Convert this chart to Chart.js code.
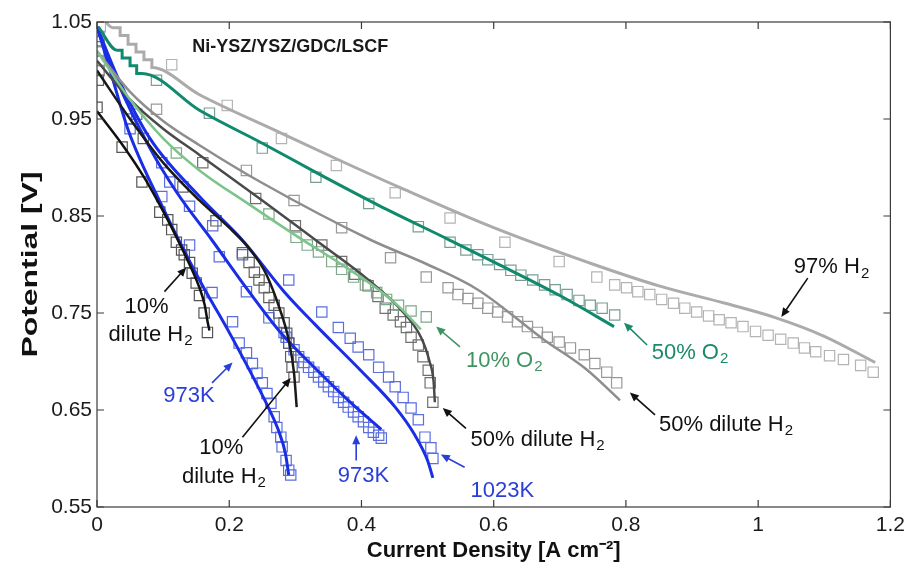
<!DOCTYPE html>
<html><head><meta charset="utf-8">
<script src="https://cdn.jsdelivr.net/npm/chart.js@4/dist/chart.umd.min.js"></script>
<style>html,body{margin:0;padding:0;background:#fff}#wrap{width:911px;height:571px}</style>
</head><body><div id="wrap"><canvas id="c" width="911" height="571"></canvas></div>
<script>
const X_TICKS = [0, 0.2, 0.4, 0.6, 0.8, 1.0, 1.2];
const X_TICK_LABELS = ['0', '0.2', '0.4', '0.6', '0.8', '1', '1.2'];
const Y_TICKS = [0.55, 0.65, 0.75, 0.85, 0.95, 1.05];
const Y_TICK_LABELS = ['0.55', '0.65', '0.75', '0.85', '0.95', '1.05'];
const X_TITLE = 'Current Density [A cm\u207B\u00B2]';
const Y_TITLE = 'Potential [V]';

// 97% H2 (reference)
const h2_97_fit = [[0.003,1.06],[0.024,1.044],[0.035,1.044],[0.035,1.036],[0.047,1.036],[0.047,1.027],[0.059,1.027],[0.059,1.019],[0.071,1.019],[0.071,1.011],[0.083,1.011],[0.083,1.003],[0.155,0.975],[0.28,0.935],[0.365,0.908],[0.456,0.880],[0.6,0.838],[0.756,0.799],[0.85,0.778],[0.95,0.760],[1.027,0.745],[1.1,0.726],[1.177,0.699]];
const h2_97_exp = [[0.005,1.045],[0.113,1.006],[0.197,0.964],[0.279,0.930],[0.362,0.902],[0.451,0.874],[0.534,0.848],[0.617,0.823],[0.699,0.803],[0.756,0.787],[0.783,0.779],[0.801,0.776],[0.818,0.772],[0.836,0.769],[0.854,0.764],[0.872,0.760],[0.889,0.755],[0.907,0.751],[0.925,0.747],[0.941,0.743],[0.959,0.740],[0.977,0.736],[0.996,0.731],[1.015,0.727],[1.034,0.723],[1.053,0.719],[1.070,0.714],[1.087,0.710],[1.108,0.706],[1.129,0.702],[1.155,0.696],[1.174,0.689]];
// 50% O2
const o2_50_fit = [[0.002,1.045],[0.030,1.021],[0.038,1.021],[0.038,1.013],[0.050,1.013],[0.050,1.005],[0.060,1.005],[0.060,0.997],[0.068,0.997],[0.155,0.959],[0.25,0.925],[0.331,0.895],[0.426,0.861],[0.531,0.826],[0.602,0.802],[0.7,0.768],[0.782,0.736]];
const o2_50_exp = [[0.003,1.03],[0.09,0.99],[0.170,0.956],[0.250,0.920],[0.331,0.890],[0.411,0.863],[0.486,0.839],[0.534,0.823],[0.558,0.815],[0.576,0.810],[0.591,0.805],[0.609,0.800],[0.626,0.794],[0.641,0.789],[0.659,0.784],[0.677,0.779],[0.693,0.774],[0.711,0.769],[0.729,0.763],[0.746,0.758],[0.764,0.755],[0.783,0.748]];
// 10% O2
const o2_10_fit = [[0.0,1.02],[0.05,0.97],[0.1,0.93],[0.155,0.897],[0.23,0.862],[0.305,0.828],[0.37,0.800],[0.426,0.774],[0.456,0.757],[0.49,0.733]];
const o2_10_exp = [[0.005,1.02],[0.12,0.915],[0.26,0.852],[0.301,0.828],[0.318,0.820],[0.335,0.813],[0.355,0.803],[0.370,0.795],[0.388,0.787],[0.406,0.779],[0.423,0.771],[0.438,0.764],[0.456,0.758],[0.475,0.752],[0.498,0.746]];
// 50% dilute H2, right curve
const dil50a_fit = [[0.0,1.02],[0.05,0.978],[0.1,0.948],[0.155,0.923],[0.25,0.884],[0.415,0.825],[0.5,0.800],[0.576,0.774],[0.677,0.722],[0.74,0.692],[0.791,0.660]];
const dil50a_exp = [[0.004,1.01],[0.09,0.96],[0.226,0.897],[0.298,0.866],[0.370,0.838],[0.444,0.807],[0.498,0.787],[0.531,0.776],[0.546,0.769],[0.561,0.765],[0.576,0.760],[0.591,0.755],[0.606,0.751],[0.621,0.746],[0.636,0.741],[0.651,0.736],[0.666,0.730],[0.681,0.725],[0.699,0.720],[0.716,0.714],[0.737,0.707],[0.753,0.698],[0.771,0.689],[0.786,0.678]];
// 50% dilute H2, left curve
const dil50b_fit = [[0.0,1.01],[0.05,0.97],[0.1,0.94],[0.155,0.913],[0.25,0.866],[0.331,0.825],[0.4,0.790],[0.426,0.775],[0.456,0.756],[0.49,0.725],[0.503,0.700],[0.509,0.680],[0.511,0.658]];
const dil50b_exp = [[0.003,1.0],[0.16,0.905],[0.24,0.868],[0.30,0.840],[0.34,0.820],[0.37,0.803],[0.39,0.790],[0.41,0.778],[0.425,0.767],[0.436,0.755],[0.448,0.748],[0.459,0.741],[0.468,0.735],[0.475,0.725],[0.486,0.717],[0.493,0.705],[0.501,0.691],[0.504,0.678],[0.508,0.658]];
// 10% dilute H2, middle curve
const dil10a_fit = [[0.0,1.0],[0.05,0.95],[0.1,0.905],[0.155,0.866],[0.2,0.838],[0.226,0.820],[0.245,0.803],[0.256,0.790],[0.275,0.757],[0.29,0.722],[0.298,0.688],[0.302,0.653]];
const dil10a_exp = [[0.002,0.99],[0.07,0.93],[0.13,0.88],[0.18,0.845],[0.220,0.812],[0.230,0.802],[0.238,0.792],[0.245,0.784],[0.253,0.776],[0.260,0.766],[0.268,0.758],[0.275,0.750],[0.283,0.740],[0.287,0.729],[0.290,0.719],[0.293,0.705],[0.295,0.694],[0.298,0.684]];
// 10% dilute H2, left curve
const dil10b_fit = [[0.0,0.958],[0.04,0.922],[0.072,0.889],[0.1,0.855],[0.113,0.838],[0.14,0.800],[0.155,0.776],[0.163,0.758],[0.167,0.742],[0.17,0.732]];
const dil10b_exp = [[0.0,0.962],[0.038,0.921],[0.068,0.885],[0.095,0.854],[0.107,0.846],[0.113,0.836],[0.120,0.823],[0.128,0.815],[0.132,0.810],[0.140,0.802],[0.144,0.791],[0.150,0.781],[0.155,0.768],[0.162,0.750],[0.167,0.730]];
// 973 K, left curve
const k973a_fit = [[0.0,1.045],[0.02,1.0],[0.047,0.939],[0.1,0.858],[0.155,0.784],[0.2,0.730],[0.256,0.657],[0.275,0.628],[0.285,0.605],[0.29,0.583]];
const k973a_exp = [[0.003,1.03],[0.05,0.94],[0.098,0.87],[0.14,0.82],[0.174,0.771],[0.205,0.741],[0.215,0.719],[0.226,0.709],[0.235,0.698],[0.242,0.688],[0.250,0.678],[0.257,0.667],[0.263,0.657],[0.268,0.643],[0.272,0.632],[0.278,0.622],[0.280,0.612],[0.286,0.598],[0.290,0.588],[0.293,0.583]];
// 973 K, middle curve
const k973b_fit = [[0.0,1.045],[0.03,0.99],[0.08,0.92],[0.12,0.875],[0.174,0.825],[0.23,0.772],[0.28,0.728],[0.33,0.693],[0.38,0.660],[0.43,0.630]];
const k973b_exp = [[0.003,1.035],[0.06,0.955],[0.098,0.905],[0.14,0.86],[0.185,0.808],[0.226,0.772],[0.26,0.745],[0.283,0.730],[0.286,0.725],[0.290,0.719],[0.298,0.712],[0.305,0.705],[0.313,0.699],[0.320,0.694],[0.328,0.689],[0.335,0.684],[0.343,0.679],[0.350,0.674],[0.358,0.669],[0.365,0.663],[0.373,0.658],[0.380,0.653],[0.388,0.648],[0.395,0.643],[0.403,0.638],[0.411,0.632],[0.418,0.627],[0.426,0.624],[0.430,0.621]];
// 1023 K
const k1023_fit = [[0.0,1.045],[0.03,0.995],[0.08,0.93],[0.155,0.870],[0.22,0.825],[0.283,0.772],[0.33,0.738],[0.40,0.690],[0.451,0.653],[0.48,0.625],[0.50,0.598],[0.508,0.580]];
const k1023_exp = [[0.003,1.02],[0.05,0.95],[0.11,0.885],[0.175,0.84],[0.22,0.81],[0.290,0.784],[0.340,0.751],[0.365,0.735],[0.383,0.724],[0.395,0.715],[0.411,0.707],[0.426,0.694],[0.441,0.684],[0.451,0.674],[0.463,0.663],[0.475,0.652],[0.486,0.640],[0.496,0.622],[0.505,0.611],[0.508,0.600]];

const FITS = [
  {d:h2_97_fit, c:'#ababab', w:3},
  {d:o2_50_fit, c:'#108a6c', w:3},
  {d:o2_10_fit, c:'#7cc48a', w:2.5},
  {d:dil50a_fit, c:'#8e8e8e', w:2.5},
  {d:dil50b_fit, c:'#4a4a4a', w:2.5},
  {d:dil10a_fit, c:'#1a1a1a', w:2.5},
  {d:dil10b_fit, c:'#111111', w:2.5},
  {d:k973a_fit, c:'#1a2ee6', w:3},
  {d:k973b_fit, c:'#1a2ee6', w:3},
  {d:k1023_fit, c:'#1a2ee6', w:3}
];
const EXPS = [
  {d:h2_97_exp, c:'#b4b4b4'},
  {d:o2_50_exp, c:'#7a9e96'},
  {d:o2_10_exp, c:'#7caa88'},
  {d:dil50a_exp, c:'#999999'},
  {d:dil50b_exp, c:'#707070'},
  {d:dil10a_exp, c:'#606060'},
  {d:dil10b_exp, c:'#555555'},
  {d:k973a_exp, c:'#5a6ee0'},
  {d:k973b_exp, c:'#5a6ee0'},
  {d:k1023_exp, c:'#5a6ee0'}
];

const toXY = arr => arr.map(p => ({x:p[0], y:p[1]}));
const datasets = [];
FITS.forEach(f => datasets.push({data:toXY(f.d), showLine:true, borderColor:f.c, borderWidth:f.w, pointRadius:0, fill:false, cubicInterpolationMode:'monotone', order:0}));
EXPS.forEach(e => datasets.push({data:toXY(e.d), showLine:false, pointStyle:'rect', pointRadius:7.3, pointBorderColor:e.c, pointBackgroundColor:'rgba(0,0,0,0)', pointBorderWidth:1.2, order:1}));

const BLUE = '#2a3fd8', TEAL = '#1a8a6a', GREEN = '#3d9460', BLK = '#111';
const NOTES = [
  {lines:[['97% H','2']], pos:[[1.054,0.797]], align:'left', color:BLK, arrow:[[1.075,0.786],[1.035,0.746]]},
  {lines:[['50% O','2']], pos:[[0.839,0.709]], align:'left', color:TEAL, arrow:[[0.832,0.717],[0.797,0.740]]},
  {lines:[['50% dilute H','2']], pos:[[0.850,0.635]], align:'left', color:BLK, arrow:[[0.844,0.645],[0.806,0.668]]},
  {lines:[['10% O','2']], pos:[[0.558,0.701]], align:'left', color:GREEN, arrow:[[0.549,0.715],[0.513,0.736]]},
  {lines:[['50% dilute H','2']], pos:[[0.565,0.619]], align:'left', color:BLK, arrow:[[0.558,0.631],[0.523,0.652]]},
  {lines:[['10%',''],['dilute H','2']], pos:[[0.075,0.756],[0.081,0.727]], align:'center', color:BLK, arrow:[[0.102,0.772],[0.135,0.797]]},
  {lines:[['973K','']], pos:[[0.139,0.664]], align:'center', color:BLUE, arrow:[[0.174,0.678],[0.205,0.699]]},
  {lines:[['10%',''],['dilute H','2']], pos:[[0.188,0.611],[0.192,0.581]], align:'center', color:BLK, arrow:[[0.220,0.622],[0.293,0.683]]},
  {lines:[['973K','']], pos:[[0.403,0.582]], align:'center', color:BLUE, arrow:[[0.392,0.598],[0.392,0.624]]},
  {lines:[['1023K','']], pos:[[0.565,0.567]], align:'left', color:BLUE, arrow:[[0.556,0.591],[0.520,0.604]]}
];
const TITLE_NOTE = {text:'Ni-YSZ/YSZ/GDC/LSCF', pos:[0.144,1.024]};

const framePlugin = {
  id:'frame',
  afterDatasetsDraw(chart){
    const {ctx, chartArea:a, scales:{x, y}} = chart;
    ctx.save();
    ctx.strokeStyle = '#3a3a3a'; ctx.lineWidth = 1.2;
    ctx.strokeRect(a.left, a.top, a.right - a.left, a.bottom - a.top);
    ctx.beginPath();
    X_TICKS.forEach(v => { const px = x.getPixelForValue(v); ctx.moveTo(px, a.bottom); ctx.lineTo(px, a.bottom - 7); ctx.moveTo(px, a.top); ctx.lineTo(px, a.top + 7); });
    Y_TICKS.forEach(v => { const py = y.getPixelForValue(v); ctx.moveTo(a.left, py); ctx.lineTo(a.left + 7, py); ctx.moveTo(a.right, py); ctx.lineTo(a.right - 7, py); });
    ctx.stroke();

    // annotations
    const FS = 22;
    const drawLine = (parts, px, py, align, color) => {
      ctx.fillStyle = color; ctx.textBaseline = 'middle';
      ctx.font = FS + 'px "Liberation Sans", Arial, sans-serif';
      const mw = ctx.measureText(parts[0]).width;
      ctx.font = Math.round(FS*0.68) + 'px "Liberation Sans", Arial, sans-serif';
      const sw = parts[1] ? ctx.measureText(parts[1]).width + 1 : 0;
      const total = mw + sw;
      let sx = align === 'center' ? px - total/2 : px;
      ctx.textAlign = 'left';
      ctx.font = FS + 'px "Liberation Sans", Arial, sans-serif';
      ctx.fillText(parts[0], sx, py);
      if (parts[1]) {
        ctx.font = Math.round(FS*0.68) + 'px "Liberation Sans", Arial, sans-serif';
        ctx.fillText(parts[1], sx + mw + 1, py + 6);
      }
    };
    NOTES.forEach(n => {
      n.lines.forEach((ln, i) => drawLine(ln, x.getPixelForValue(n.pos[i][0]), y.getPixelForValue(n.pos[i][1]), n.align, n.color));
      const x0 = x.getPixelForValue(n.arrow[0][0]), y0 = y.getPixelForValue(n.arrow[0][1]);
      const x1 = x.getPixelForValue(n.arrow[1][0]), y1 = y.getPixelForValue(n.arrow[1][1]);
      ctx.strokeStyle = n.color; ctx.fillStyle = n.color; ctx.lineWidth = 1.6;
      const ang = Math.atan2(y1 - y0, x1 - x0);
      const hl = 9, hw = 4;
      ctx.beginPath(); ctx.moveTo(x0, y0); ctx.lineTo(x1 - Math.cos(ang)*hl*0.8, y1 - Math.sin(ang)*hl*0.8); ctx.stroke();
      ctx.beginPath();
      ctx.moveTo(x1, y1);
      ctx.lineTo(x1 - Math.cos(ang)*hl + Math.sin(ang)*hw, y1 - Math.sin(ang)*hl - Math.cos(ang)*hw);
      ctx.lineTo(x1 - Math.cos(ang)*hl - Math.sin(ang)*hw, y1 - Math.sin(ang)*hl + Math.cos(ang)*hw);
      ctx.closePath(); ctx.fill();
    });
    ctx.fillStyle = '#1a1a1a'; ctx.textAlign = 'left'; ctx.textBaseline = 'middle';
    ctx.font = 'bold 18px "Liberation Sans", Arial, sans-serif';
    ctx.fillText(TITLE_NOTE.text, x.getPixelForValue(TITLE_NOTE.pos[0]), y.getPixelForValue(TITLE_NOTE.pos[1]));

    // y axis title (stretched along its length like the reference)
    ctx.save();
    ctx.translate(31, (a.top + a.bottom) / 2);
    ctx.rotate(-Math.PI / 2);
    ctx.scale(1.45, 1);
    ctx.font = 'bold 22px "Liberation Sans", Arial, sans-serif';
    ctx.fillStyle = '#111'; ctx.textAlign = 'center'; ctx.textBaseline = 'middle';
    ctx.fillText(Y_TITLE, 0, 0);
    ctx.restore();
    ctx.restore();
  }
};

new Chart(document.getElementById('c'), {
  type:'scatter',
  data:{datasets},
  options:{
    responsive:false, animation:false, devicePixelRatio:1,
    layout:{padding:{left:0, right:16, top:22, bottom:0}},
    plugins:{legend:{display:false}, tooltip:{enabled:false}},
    scales:{
      x:{type:'linear', min:0, max:1.2,
        afterBuildTicks(s){ s.ticks = X_TICKS.map(v => ({value:v})); },
        afterFit(s){ s.height = 64; },
        grid:{display:false, drawTicks:false}, border:{display:false},
        ticks:{padding:6, color:'#1a1a1a', font:{family:'"Liberation Sans", Arial, sans-serif', size:21}, maxRotation:0, autoSkip:false,
          callback:(v, i) => X_TICK_LABELS[X_TICKS.findIndex(t => Math.abs(t - v) < 1e-9)]},
        title:{display:true, text:X_TITLE, color:'#111', padding:{top:0, bottom:7}, font:{family:'"Liberation Sans", Arial, sans-serif', size:22, weight:'bold'}}
      },
      y:{type:'linear', min:0.55, max:1.05,
        afterBuildTicks(s){ s.ticks = Y_TICKS.map(v => ({value:v})); },
        afterFit(s){ s.width = 97; },
        grid:{display:false, drawTicks:false}, border:{display:false},
        ticks:{padding:5, color:'#1a1a1a', font:{family:'"Liberation Sans", Arial, sans-serif', size:21}, autoSkip:false,
          callback:(v, i) => Y_TICK_LABELS[Y_TICKS.findIndex(t => Math.abs(t - v) < 1e-9)]},
        title:{display:false}
      }
    }
  },
  plugins:[framePlugin]
});
</script></body></html>
